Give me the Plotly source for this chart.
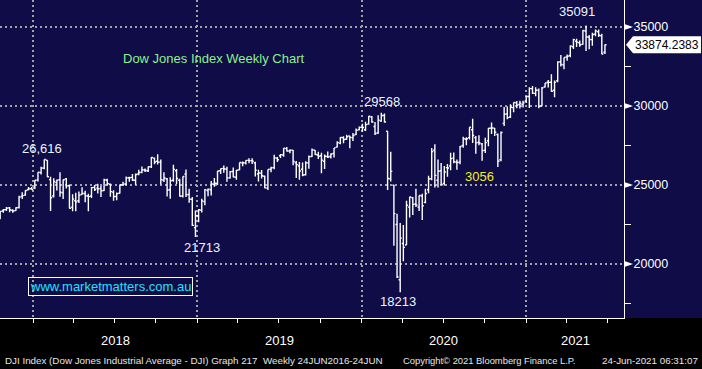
import pandas as pd
import plotly.graph_objects as go

# ---------------- data (weekly bars, Friday week-ending) ----------------
first_week = "2017-10-20"

opens = [
    # 2017
    22870, 23350, 23440, 23550, 23400, 23380, 23580, 24280, 24360, 24700, 24760,
    # 2018
    24810, 25310, 25780, 26070, 26570, 25340, 24300, 25150, 25330, 24500, 25390, 24950, 23600,
    24000, 24000, 24400, 24460, 24300, 24300, 24850, 24800, 24770, 24650, 25320, 25050, 24550,
    24270, 24480, 25020, 25060, 25460, 25480, 25300, 25700, 25800, 25950, 25900, 26150, 26700,
    26500, 26450, 25300, 25400, 24700, 25300, 25900, 25300, 24300, 25700, 24400, 24100, 22300,
    # 2019
    23050, 23400, 23950, 24650, 24700, 25050, 25100, 25900, 26050, 26000, 25450, 25850, 25500,
    25960, 26400, 26400, 26560, 26540, 26400, 25700, 25750, 25550, 24800, 26000, 26100, 26700,
    26850, 26900, 27300, 27150, 27200, 26400, 26200, 26000, 25650, 26400, 26800, 27200, 26900,
    26850, 26500, 26800, 26800, 26990, 27400, 27650, 28000, 27900, 28100, 28000, 28200, 28500,
    # 2020
    28650, 28500, 28850, 29300, 28700, 28300, 29050, 29400, 28400, 25400, 24992, 22500, 19000,
    21300, 21200, 23600, 24200, 23800, 23600, 24300, 23900, 24700, 25400, 27200, 25300, 25900,
    25100, 26100, 26200, 26700, 26450, 26450, 27500, 27900, 28000, 28500, 28000, 27700, 27600,
    27200, 27800, 28600, 28600, 28200, 26600, 28900, 29500, 29300, 29900, 30200, 30100, 30100,
    30300,
    # 2021
    30600, 31100, 30800, 31000, 30000, 31200, 31500, 31500, 31000, 31600, 32800, 32600, 33100,
    33200, 33750, 34100, 34000, 33900, 34750, 34350, 34200, 34550, 34700, 34450, 33400,
]
highs = [
    23368, 23485, 23602, 23602, 23464, 23598, 24327, 24534, 24669, 24876, 24872,
    25299, 25803, 26153, 26617, 26570, 25520, 25432, 25350, 25800, 25352, 25449, 25024, 24420,
    24513, 24583, 24858, 24636, 24450, 24867, 24994, 25086, 24935, 25402, 25402, 25090, 24660,
    24527, 25034, 25213, 25530, 25520, 25692, 25730, 25961, 26167, 26050, 26168, 26769, 26743,
    26951, 26617, 25800, 25440, 25487, 26287, 26016, 25400, 25538, 25980, 24764, 24240, 23382,
    23470, 24127, 24750, 24778, 25250, 25440, 25883, 26051, 26241, 26156, 25880, 26109, 25950,
    26425, 26488, 26565, 26696, 26695, 26469, 25968, 25943, 25600, 25987, 26160, 26907, 26768,
    26966, 27335, 27398, 27268, 27218, 26513, 26450, 26427, 26500, 26860, 27306, 27219, 27098,
    27046, 26925, 27119, 27008, 27347, 27775, 28037, 28090, 28174, 28113, 28290, 28582, 28702,
    28872, 29009, 29374, 29373, 28986, 29408, 29568, 29526, 28402, 27102, 25018, 23185, 22595,
    22463, 24009, 24264, 24242, 24765, 24333, 24453, 24765, 25585, 27338, 27580, 26610, 26400,
    26204, 26331, 27040, 27054, 26619, 27465, 28048, 28015, 28654, 29199, 28095, 28141, 27661,
    27992, 28610, 28958, 28606, 28254, 28389, 29934, 29964, 30116, 30219, 30319, 30326, 30332,
    30627,
    31193, 31272, 31188, 31111, 31202, 31459, 31647, 32010, 31617, 32836, 33227, 33077, 33259,
    33827, 34256, 34256, 34150, 34811, 35091, 34493, 34631, 34849, 34849, 34566, 33900,
]
lows = [
    22840, 23237, 23361, 23271, 23242, 23355, 23509, 24116, 24320, 24660, 24699,
    24741, 25215, 25669, 25995, 25490, 23360, 24211, 24650, 24254, 24117, 24783, 23509, 23345,
    23345, 23861, 24390, 23901, 23344, 24181, 24621, 24468, 24241, 24620, 24945, 24252, 23997,
    24036, 24456, 24934, 24981, 25212, 25258, 25019, 25622, 25750, 25821, 25830, 26080, 26312,
    26293, 25034, 25190, 24268, 24122, 25200, 25062, 24268, 24214, 24242, 23881, 22397, 21713,
    22638, 23258, 23713, 24294, 24331, 24883, 24995, 25704, 25781, 25208, 25390, 25491, 25339,
    25929, 26185, 26302, 26369, 26335, 25530, 25223, 25404, 24801, 24681, 25811, 26000, 26450,
    26710, 26785, 27121, 27017, 26249, 25438, 25339, 25556, 25605, 26024, 26767, 26901, 26638,
    25743, 26007, 26705, 26675, 26740, 27373, 27578, 27641, 27863, 27325, 27790, 28170, 28463,
    28377, 28418, 28819, 28945, 28169, 28230, 29004, 28950, 24681, 25226, 21154, 19121, 18213,
    20178, 21200, 22941, 23099, 23611, 23361, 22789, 23852, 24481, 25299, 24843, 24843, 24999,
    24971, 25523, 25940, 26370, 25964, 26309, 27364, 27512, 27882, 27664, 26982, 27514, 26537,
    27029, 27457, 28228, 28097, 26143, 26501, 28733, 29160, 29243, 29612, 29851, 29836, 29907,
    30195,
    29881, 30762, 30612, 29856, 29985, 31164, 31178, 30907, 30547, 31503, 32503, 32320, 32860,
    33085, 33613, 33742, 33756, 33876, 33474, 33597, 33812, 34412, 34368, 33271, 33294,
]
closes = [
    23329, 23434, 23539, 23422, 23358, 23558, 24232, 24329, 24651, 24754, 24719,
    25296, 25803, 26072, 26617, 25521, 24191, 25219, 25310, 24538, 25336, 24946, 23533, 24103,
    23933, 24360, 24463, 24311, 24263, 24831, 24715, 24753, 24635, 25317, 25090, 24581, 24271,
    24456, 25019, 25058, 25451, 25463, 25313, 25669, 25790, 25965, 25917, 26154, 26744, 26458,
    26447, 25340, 25444, 24688, 25270, 25989, 25413, 24286, 25538, 24389, 24101, 22445, 23062,
    23433, 23996, 24706, 24737, 25064, 25106, 25883, 26031, 26026, 25450, 25849, 25502, 25929,
    26425, 26412, 26559, 26543, 26505, 25942, 25764, 25586, 24815, 25984, 26090, 26719, 26600,
    26922, 27332, 27154, 27192, 26485, 26287, 25886, 25629, 26403, 26797, 27220, 26935, 26820,
    26573, 26817, 26770, 26958, 27347, 27681, 28005, 27876, 28051, 28015, 28135, 28455, 28645,
    28635, 28823, 29348, 28990, 28256, 29103, 29398, 28992, 25409, 25865, 23186, 19174, 21637,
    21053, 23719, 24242, 23775, 23724, 24331, 23685, 24465, 25383, 27111, 25606, 25871, 25016,
    25827, 26075, 26672, 26470, 26428, 27433, 27931, 27930, 28654, 28133, 27666, 27657, 27174,
    27683, 28587, 28606, 28336, 26502, 28323, 29480, 29263, 29910, 30218, 30046, 30179, 30200,
    30606,
    31098, 30814, 30997, 29983, 31148, 31458, 31494, 30932, 31496, 32779, 32628, 33073, 33153,
    33801, 34200, 34043, 33875, 34778, 34382, 34208, 34529, 34756, 34480, 33290, 33874,
]
last_price = 33874.2383

year_starts = ["2018-01-01", "2019-01-01", "2020-01-01", "2021-01-01"]
year_labels = ["2018", "2019", "2020", "2021"]
y_major = [20000, 25000, 30000, 35000]
y_minor = [17500, 22500, 27500, 32500]

chart_title = "Dow Jones Index Weekly Chart"
callouts = ["26,616", "21713", "29568", "18213", "35091"]
yellow_note = "3056"
website = "www.marketmatters.com.au"
footer_left = "DJI Index (Dow Jones Industrial Average - DJI) Graph 217  Weekly 24JUN2016-24JUN"
footer_mid = "Copyright\u00a9 2021 Bloomberg Finance L.P."
footer_right = "24-Jun-2021 06:31:07"

assert len(opens) == len(highs) == len(lows) == len(closes)
weeks = pd.date_range(first_week, periods=len(closes), freq="W-FRI")

# ---------------- layout constants ----------------
W, H = 702, 369
PL, PR, PT, PB = 0, 78, 0, 51
PW, PH = W - PL - PR, H - PT - PB          # 624 x 318
NAVY = "#0f0c47"
GRID = "#a3a3a3"
Y_RANGE = [16582, 36709]
X_RANGE = ["2017-10-19 16:00", "2021-08-06 08:00"]
FONT = "Arial, Liberation Sans, sans-serif"


def px(x):
    return x / PW


def py(y):
    return 1 - y / PH


def yv(v):
    return (v - Y_RANGE[0]) / (Y_RANGE[1] - Y_RANGE[0])


fig = go.Figure()
fig.add_trace(go.Ohlc(
    x=weeks, open=opens, high=highs, low=lows, close=closes,
    increasing=dict(line=dict(color="white", width=1.4)),
    decreasing=dict(line=dict(color="white", width=1.4)),
    tickwidth=0.5, hoverinfo="skip", showlegend=False,
))

quarters = pd.date_range("2017-10-01", "2021-07-01", freq="QS").strftime("%Y-%m-%d").tolist()

fig.update_xaxes(
    type="date", range=X_RANGE, rangeslider=dict(visible=False),
    tickvals=year_starts, ticktext=[""] * len(year_starts),
    showgrid=True, gridcolor=GRID, griddash="2px,3px", gridwidth=2,
    ticks="outside", ticklen=32, tickcolor="#8c8c8c", tickwidth=1,
    showline=True, linecolor="white", linewidth=1, zeroline=False,
    minor=dict(tickvals=quarters, ticks="outside", ticklen=4, tickcolor="white",
               tickwidth=1, showgrid=False),
    fixedrange=True,
)
fig.update_yaxes(
    side="right", range=Y_RANGE,
    tickvals=y_major, ticktext=[str(v) for v in y_major],
    showgrid=True, gridcolor=GRID, griddash="2px,3px", gridwidth=2,
    ticks="outside", ticklen=6, tickcolor="white", tickwidth=1,
    tickfont=dict(family=FONT, size=12.5, color="white"),
    showline=True, linecolor="white", linewidth=1, zeroline=False,
    minor=dict(tickvals=y_minor, ticks="outside", ticklen=6, tickcolor="white",
               tickwidth=1, showgrid=False),
    fixedrange=True,
)

shapes = [
    # navy panel behind the right-hand axis labels
    dict(type="rect", xref="paper", yref="paper", x0=1, x1=1 + PR / PW, y0=0, y1=1,
         fillcolor=NAVY, line=dict(width=0), layer="below"),
]
# triangles marking each major y level
for v in y_major:
    c = yv(v)
    d = 2.8 / PH
    shapes.append(dict(type="path", xref="paper", yref="paper",
                       path=f"M {px(PW + 1)},{c + d} L {px(PW + 9)},{c} L {px(PW + 1)},{c - d} Z",
                       fillcolor="white", line=dict(width=0)))
# last-price pointer box
c = yv(last_price)
d = 8.5 / PH
shapes.append(dict(type="path", xref="paper", yref="paper",
                   path=(f"M {px(PW + 2)},{c} L {px(PW + 9)},{c + d} L {px(W - 1)},{c + d} "
                         f"L {px(W - 1)},{c - d} L {px(PW + 9)},{c - d} Z"),
                   fillcolor="white", line=dict(width=0)))

annotations = [
    dict(text=f"{last_price:.4f}", xref="paper", yref="paper", x=px(PW + 9), y=c,
         xanchor="left", yanchor="middle", showarrow=False,
         font=dict(family=FONT, size=12, color="black")),
    dict(text=chart_title, xref="paper", yref="paper", x=px(213.5), y=py(59),
         xanchor="center", yanchor="middle", showarrow=False,
         font=dict(family=FONT, size=13, color="#8cf08c")),
    dict(text=yellow_note, xref="paper", yref="paper", x=px(479.5), y=py(176),
         xanchor="center", yanchor="middle", showarrow=False,
         font=dict(family=FONT, size=13, color="#f0f020")),
    dict(text=website, xref="paper", yref="paper", x=px(110), y=py(286),
         xanchor="center", yanchor="middle", showarrow=False,
         bordercolor="white", borderwidth=1, borderpad=1,
         font=dict(family=FONT, size=13, color="#22e0ff")),
]
callout_pos = [(42.5, 148), (201.5, 247), (381.5, 101), (397.5, 301), (577, 12)]
for t, (x, y) in zip(callouts, callout_pos):
    annotations.append(dict(text=t, xref="paper", yref="paper", x=px(x), y=py(y),
                            xanchor="center", yanchor="middle", showarrow=False,
                            font=dict(family=FONT, size=13, color="#eef2ff")))
# year labels
year_pos = [115, 279, 443, 575]
for t, x in zip(year_labels, year_pos):
    annotations.append(dict(text=t, xref="paper", yref="paper", x=px(x), y=py(340),
                            xanchor="center", yanchor="middle", showarrow=False,
                            font=dict(family=FONT, size=13, color="white")))
# footer
for t, x, anchor, size in [(footer_left, 3, "left", 9.8), (footer_mid, 401, "left", 9.4),
                           (footer_right, 700, "right", 9.8)]:
    annotations.append(dict(text=t, xref="paper", yref="paper", x=px(x), y=py(360),
                            xanchor=anchor, yanchor="middle", showarrow=False,
                            font=dict(family=FONT, size=size, color="#e6e6e6")))

fig.update_layout(
    width=W, height=H,
    margin=dict(l=PL, r=PR, t=PT, b=PB, pad=0),
    paper_bgcolor="black", plot_bgcolor=NAVY,
    shapes=shapes, annotations=annotations,
    showlegend=False, hovermode=False,
)

fig.write_html("out.html", config=dict(displayModeBar=False),
               post_script="document.body.style.margin='0';")
